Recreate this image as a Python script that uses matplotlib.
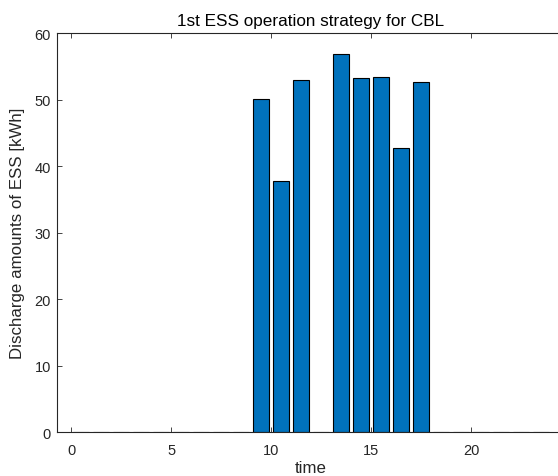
import numpy as np
import matplotlib
matplotlib.use("Agg")
import matplotlib.pyplot as plt

plt.rcParams["font.family"] = ["Liberation Sans", "DejaVu Sans"]

# hourly discharge amounts (bar centres at hour + 0.5)
hours = np.arange(24) + 0.5
discharge = [0, 0, 0, 0, 0, 0, 0, 0, 0,
             50.1, 37.7, 53.0, 0, 56.8, 53.3, 53.4, 42.75, 52.6,
             0, 0, 0, 0, 0, 0]

x_ticks = [0, 5, 10, 15, 20]
y_ticks = [0, 10, 20, 30, 40, 50, 60]

fig = plt.figure(figsize=(5.58, 4.77), dpi=100)
# axes runs a little past the right edge of the figure, as in the reference
ax = fig.add_axes([0.1027, 0.0916, 0.9093, 0.8371])

ax.bar(hours, discharge, width=0.8, color="#0072BD", edgecolor="black", linewidth=0.8)

ax.set_xlim(-0.7, 24.67)
ax.set_ylim(0, 60)
ax.set_xticks(x_ticks)
ax.set_yticks(y_ticks)
ax.tick_params(direction="in", length=3.6, width=0.6, labelsize=10.5, top=True, right=True,
               colors="#262626", labelcolor="#262626")
ax.tick_params(axis="x", pad=8)
ax.tick_params(axis="y", pad=4.5)
for side in ["left", "bottom", "top", "right"]:
    ax.spines[side].set_linewidth(0.8)
    ax.spines[side].set_color("#262626")

ax.set_title("1st ESS operation strategy for CBL", fontsize=12.3, color="black", pad=6)
ax.set_xlabel("time", fontsize=12.2, color="#262626", labelpad=2)
ax.set_ylabel("Discharge amounts of ESS [kWh]", fontsize=12.2, color="#262626", labelpad=7)

fig.savefig("out.png", dpi=100)
